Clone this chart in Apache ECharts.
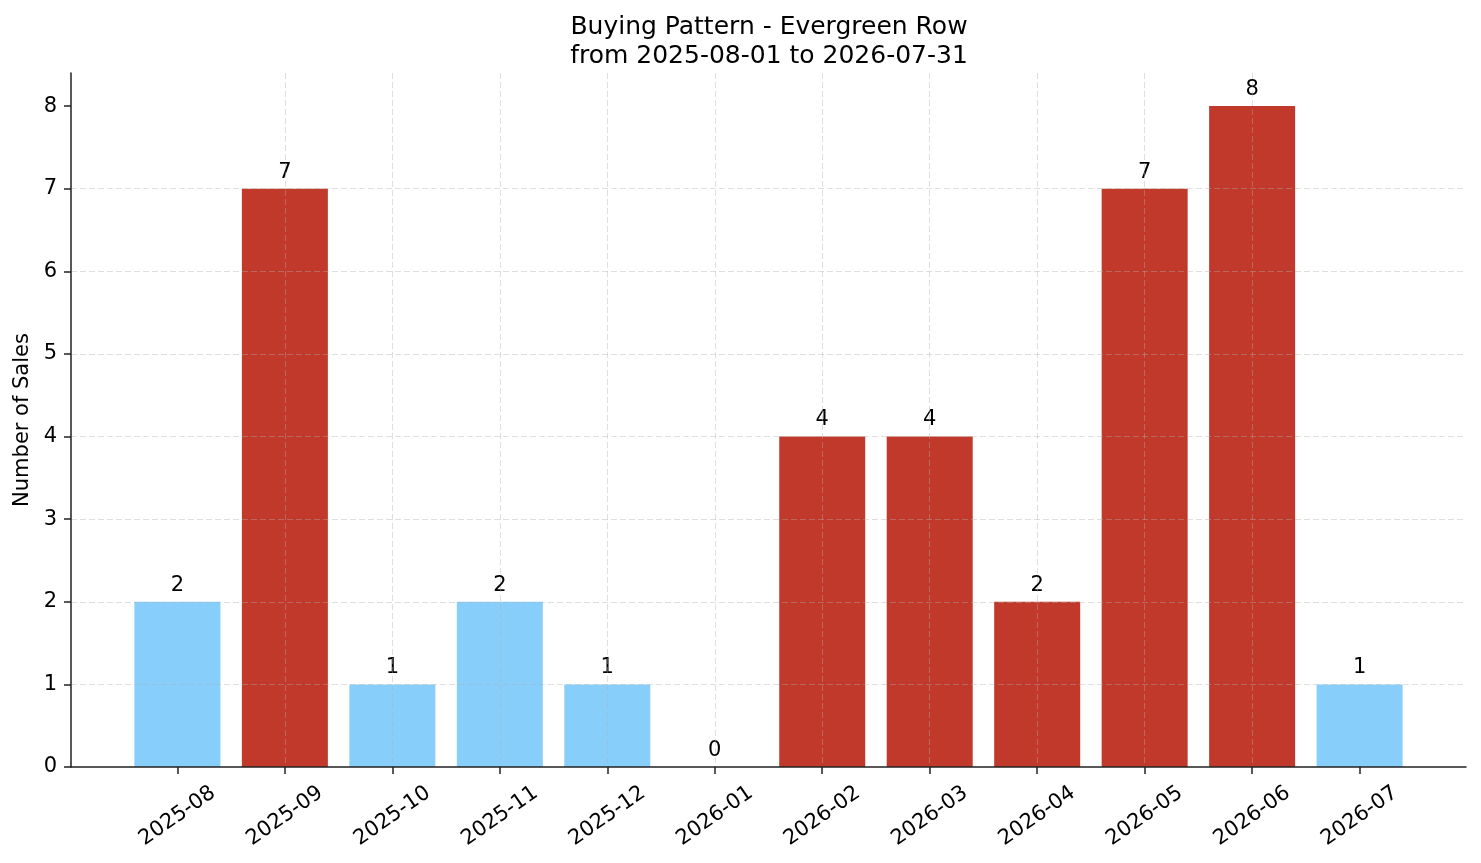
<!DOCTYPE html>
<html>
<head>
<meta charset="utf-8">
<title>Buying Pattern - Evergreen Row</title>
<script src="https://cdn.jsdelivr.net/npm/echarts@6/dist/echarts.min.js"></script>
<style>
  html, body { margin: 0; padding: 0; background: #fff; }
  #chart { width: 1481px; height: 863px; }
</style>
</head>
<body>
<div id="chart"></div>
<script>
// months on the x axis
var months = ['2025-08', '2025-09', '2025-10', '2025-11', '2025-12', '2026-01',
              '2026-02', '2026-03', '2026-04', '2026-05', '2026-06', '2026-07'];
// sales per month
var sales = [2, 7, 1, 2, 1, 0, 4, 4, 2, 7, 8, 1];
// busy months (drawn red)
var busy = [false, true, false, false, false, false, true, true, true, true, true, false];
var yTicks = [0, 1, 2, 3, 4, 5, 6, 7, 8];

var FONT = 'DejaVu Sans';
var BLUE = '#87cefa';
var RED = '#c0392b';

var xTicks = months.map(function (m, i) { return i; });

var barData = sales.map(function (v, i) {
    return {
        value: [i, v],
        itemStyle: { color: busy[i] ? RED : BLUE }
    };
});

// dashed grid, drawn over the bars like the original
var gridLine = { show: true, lineStyle: { color: 'rgba(176,176,176,0.4)', width: 1, type: [6, 3] }, showMinLine: false, showMaxLine: false };

var chart = echarts.init(document.getElementById('chart'));

var option = {
    animation: false,
    backgroundColor: '#fff',
    title: {
        text: 'Buying Pattern - Evergreen Row\nfrom 2025-08-01 to 2026-07-31',
        left: 764,
        top: 8,
        textAlign: 'center',
        textStyle: { fontFamily: FONT, fontSize: 25, fontWeight: 'normal', color: '#000', lineHeight: 29 }
    },
    grid: { left: 71, right: 15, top: 73, bottom: 96, containLabel: false },
    xAxis: {
        type: 'value',
        min: -0.99,
        max: 11.99,
        z: 3,
        axisLine: { show: true, onZero: false, lineStyle: { color: '#222', width: 1.5 } },
        axisTick: { show: true, length: 7, customValues: xTicks, lineStyle: { color: '#222', width: 1.5 } },
        axisLabel: {
            customValues: xTicks,
            rotate: 35,
            align: 'center',
            verticalAlign: 'middle',
            margin: 49,
            fontFamily: FONT,
            fontSize: 21,
            color: '#000',
            formatter: function (v) { return months[Math.round(v)] || ''; }
        },
        splitLine: gridLine
    },
    yAxis: {
        type: 'value',
        min: 0,
        max: 8.4,
        z: 3,
        name: 'Number of Sales',
        nameLocation: 'middle',
        nameGap: 37,
        nameTextStyle: { fontFamily: FONT, fontSize: 21, color: '#000' },
        axisLine: { show: true, onZero: false, lineStyle: { color: '#222', width: 1.5 } },
        axisTick: { show: true, length: 7, customValues: yTicks, lineStyle: { color: '#222', width: 1.5 } },
        axisLabel: { customValues: yTicks, margin: 14, fontFamily: FONT, fontSize: 21, color: '#000' },
        splitLine: gridLine
    },
    series: [{
        type: 'bar',
        data: barData,
        barWidth: 86,
        label: {
            show: true,
            position: 'top',
            distance: 6,
            fontFamily: FONT,
            fontSize: 21,
            color: '#000',
            formatter: function (p) { return p.value[1]; }
        }
    }]
};

chart.setOption(option);
</script>
</body>
</html>
